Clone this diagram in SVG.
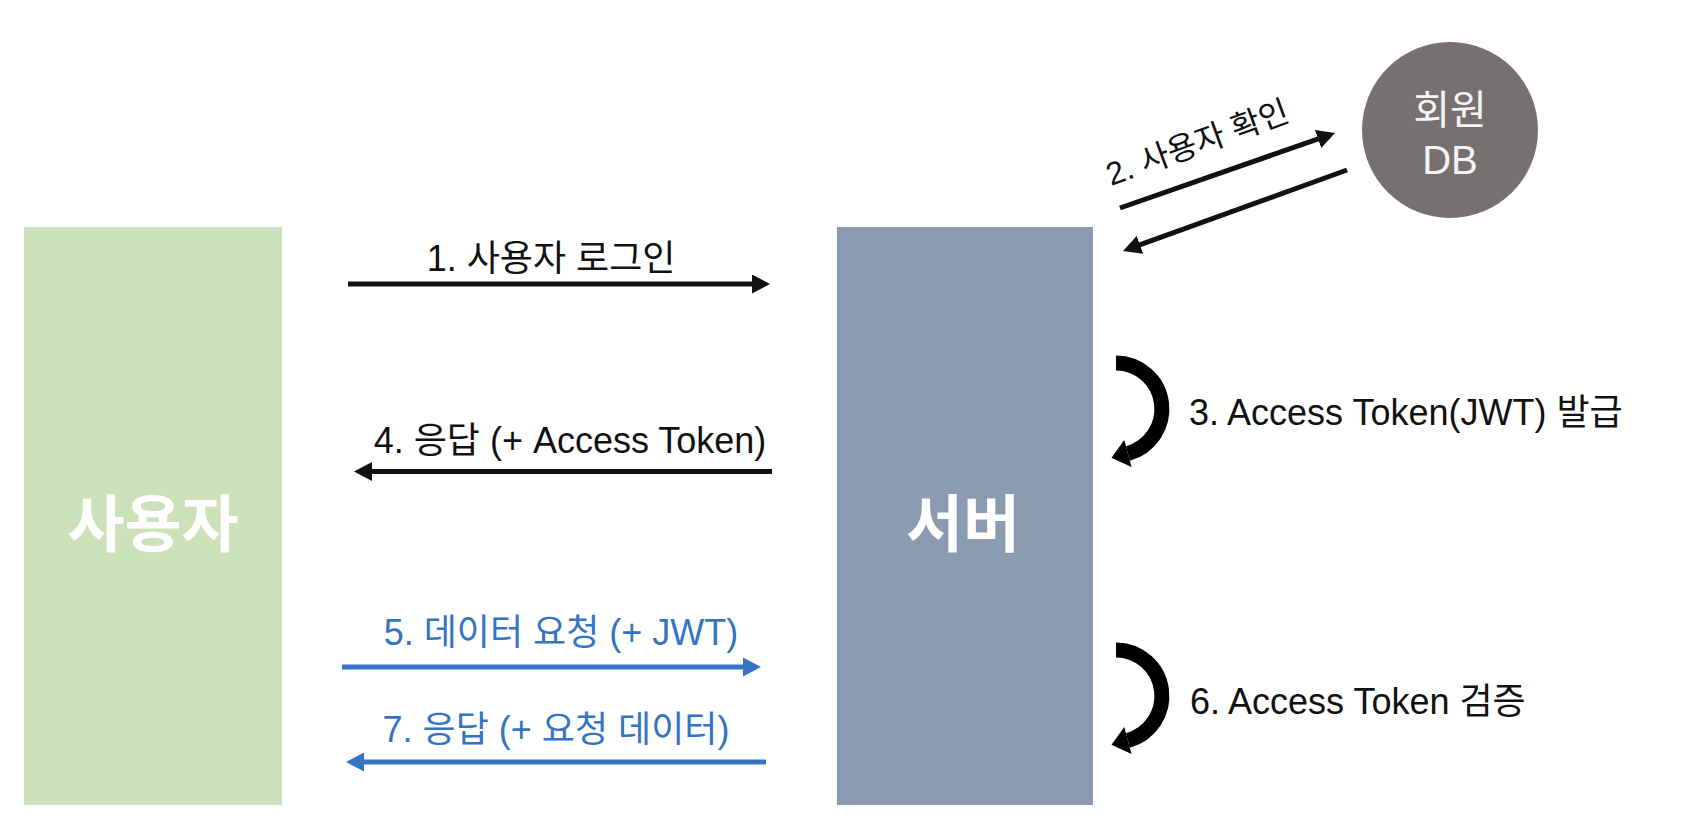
<svg xmlns="http://www.w3.org/2000/svg" width="1686" height="836" viewBox="0 0 1686 836">
  <style>
    text { font-family: "Liberation Sans", "Noto Sans CJK KR", sans-serif; }
    .lbl { font-size: 36px; fill: #111111; }
    .blue { fill: #3474C2; }
    .big { font-size: 62px; font-weight: 700; fill: #FFFFFF; text-anchor: middle; }
    .db { font-size: 40px; fill: #F4F4F4; text-anchor: middle; }
    .ln { stroke: #111111; stroke-width: 5; fill: none; }
    .lnb { stroke: #3474C2; stroke-width: 5; fill: none; }
    .curve { stroke: #000000; stroke-width: 15; fill: none; }
  </style>
  <defs>
    <marker id="ah" markerUnits="userSpaceOnUse" markerWidth="18" markerHeight="19" refX="1" refY="9.5" orient="auto">
      <path d="M0,0 L18,9.5 L0,19 z" fill="#111111"/>
    </marker>
    <marker id="ahb" markerUnits="userSpaceOnUse" markerWidth="18" markerHeight="19" refX="1" refY="9.5" orient="auto">
      <path d="M0,0 L18,9.5 L0,19 z" fill="#3474C2"/>
    </marker>
  </defs>
  <rect width="1686" height="836" fill="#FFFFFF"/>

  <g id="user">
    <rect x="24" y="227" width="258" height="578" fill="#CCE0B9"/>
    <text class="big" x="153" y="547">사용자</text>
  </g>

  <g id="server">
    <rect x="837" y="227" width="256" height="578" fill="#8A9AB1"/>
    <text class="big" x="963" y="547">서버</text>
  </g>

  <g id="db">
    <circle cx="1450" cy="130" r="88" fill="#767170"/>
    <text class="db" x="1450" y="124">회원</text>
    <text class="db" x="1450" y="174">DB</text>
  </g>

  <g id="connectors">
    <line class="ln" x1="348" y1="284" x2="753" y2="284" marker-end="url(#ah)"/>
    <line class="ln" x1="1120" y1="208" x2="1319" y2="138.6" marker-end="url(#ah)"/>
    <line class="ln" x1="1347" y1="170" x2="1139" y2="245.2" marker-end="url(#ah)"/>
    <path class="curve" d="M1116,363 A46,46 0 0 1 1127.9,453.4"/>
    <polygon points="1111.5,457.8 1131.5,466.9 1124.3,439.9" fill="#000000"/>
    <line class="ln" x1="772" y1="471.5" x2="371" y2="471.5" marker-end="url(#ah)"/>
    <line class="lnb" x1="342" y1="667" x2="744" y2="667" marker-end="url(#ahb)"/>
    <path class="curve" d="M1116,650 A46,46 0 0 1 1127.9,740.4"/>
    <polygon points="1111.5,744.8 1131.5,753.9 1124.3,726.9" fill="#000000"/>
    <line class="lnb" x1="766" y1="762" x2="363" y2="762" marker-end="url(#ahb)"/>
  </g>

  <g id="labels">
    <text class="lbl" x="551" y="271" text-anchor="middle">1. 사용자 로그인</text>
    <text class="lbl" x="1111" y="186" style="font-size:32px" transform="rotate(-20 1111 186)">2. 사용자 확인</text>
    <text class="lbl" x="1189" y="425">3. Access Token(JWT) 발급</text>
    <text class="lbl" x="570" y="453" text-anchor="middle">4. 응답 (+ Access Token)</text>
    <text class="lbl blue" x="561" y="645" text-anchor="middle">5. 데이터 요청 (+ JWT)</text>
    <text class="lbl" x="1190" y="714">6. Access Token 검증</text>
    <text class="lbl blue" x="556" y="742" text-anchor="middle">7. 응답 (+ 요청 데이터)</text>
  </g>
</svg>
